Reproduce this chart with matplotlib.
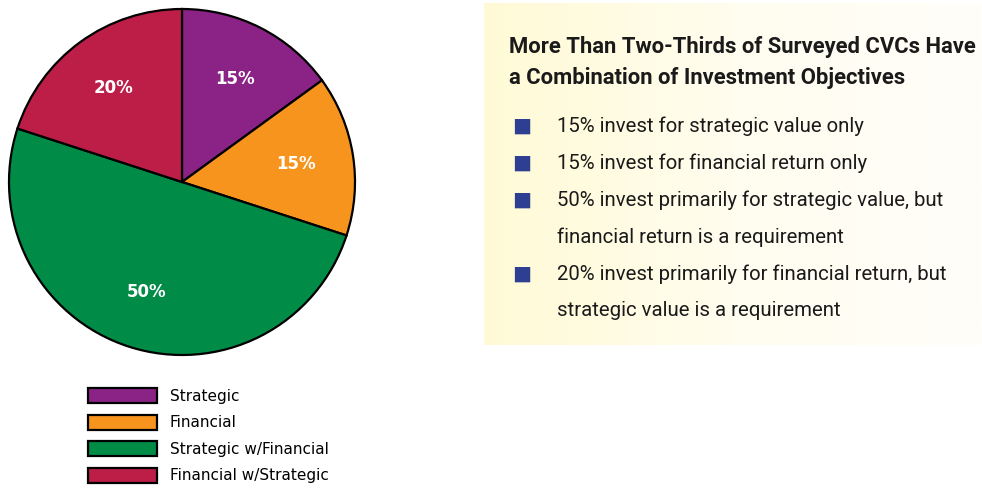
import numpy as np
import matplotlib
matplotlib.use("Agg")
import matplotlib.pyplot as plt
from matplotlib.colors import LinearSegmentedColormap

labels = ["Strategic", "Financial", "Strategic w/Financial", "Financial w/Strategic"]
shares = [15, 15, 50, 20]
colors = ["#8B2387", "#F7941E", "#008C46", "#BC1E48"]

title_lines = ["More Than Two-Thirds of Surveyed CVCs Have",
               "a Combination of Investment Objectives"]
bullets = [
    ["15% invest for strategic value only"],
    ["15% invest for financial return only"],
    ["50% invest primarily for strategic value, but", "financial return is a requirement"],
    ["20% invest primarily for financial return, but", "strategic value is a requirement"],
]

W, H = 982, 490
fig = plt.figure(figsize=(W / 100, H / 100), dpi=100)
fig.patch.set_facecolor("white")

def fbox(x0, y0, x1, y1):
    # pixel box (top-left origin) -> figure fraction rect
    return [x0 / W, 1 - y1 / H, (x1 - x0) / W, (y1 - y0) / H]

narrow = ["Roboto", "DejaVu Sans"]

# pie
cx, cy, r = 182, 182, 173
pad = 180
ax = fig.add_axes(fbox(cx - pad, cy - pad, cx + pad, cy + pad))
wedges, _, autotexts = ax.pie(shares, colors=colors, startangle=90, counterclock=False,
                              autopct="%d%%", pctdistance=0.67,
                              wedgeprops=dict(edgecolor="black", linewidth=1.6),
                              textprops=dict(color="white", fontsize=12, fontweight="bold"))
lim = pad / r
ax.set_xlim(-lim, lim)
ax.set_ylim(-lim, lim)
ax.set_aspect("equal")
ax.axis("off")

# legend
fig.legend(wedges, labels, loc="upper left", bbox_to_anchor=(76 / W, 1 - 376 / H),
           frameon=False, fontsize=11, handlelength=4.5, handleheight=1.15,
           labelspacing=0.7, handletextpad=0.85, borderpad=0.3)

# text box with gradient
bx = fig.add_axes(fbox(484, 3, 982, 345))
grad = np.linspace(0, 1, 256).reshape(1, -1)
cmap = LinearSegmentedColormap.from_list("bg", ["#FFFAD5", "#FFFDEF", "#FFFEF9"])
bx.imshow(grad, cmap=cmap, aspect="auto", extent=[0, 1, 0, 1])
bx.set_xlim(0, 1)
bx.set_ylim(0, 1)
bx.axis("off")

fig.text(509 / W, 1 - 47 / H, title_lines[0], fontsize=15.8, fontweight="bold",
         family=narrow, va="center", ha="left", color="#1a1a1a")
fig.text(509 / W, 1 - 78 / H, title_lines[1], fontsize=15.8, fontweight="bold",
         family=narrow, va="center", ha="left", color="#1a1a1a")

y = 126
step = 37
for item in bullets:
    fig.text(522 / W, 1 - y / H, "\u25A0", fontsize=14.5, color="#2E3F92",
             family="DejaVu Sans", va="center", ha="center")
    for line in item:
        fig.text(557 / W, 1 - y / H, line, fontsize=14.7, family=narrow,
                 va="center", ha="left", color="#1a1a1a")
        y += step

fig.savefig("out.png", dpi=100)
